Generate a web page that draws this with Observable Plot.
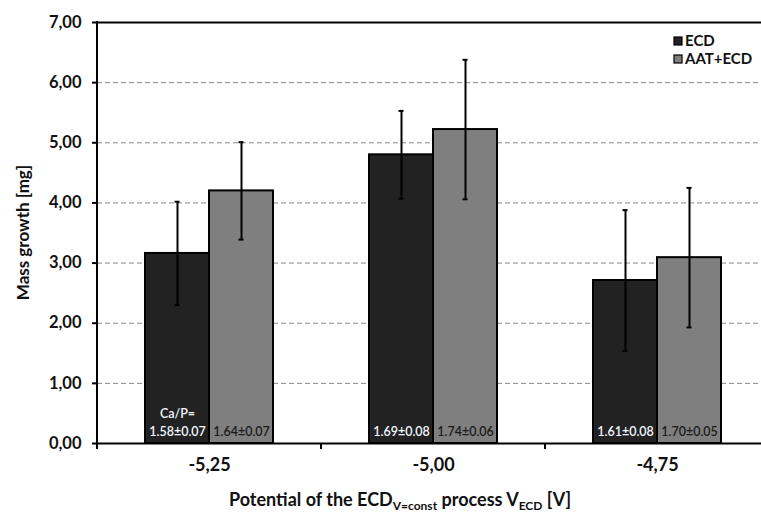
<!DOCTYPE html>
<html><head><meta charset="utf-8">
<script src="https://cdn.jsdelivr.net/npm/d3@7"></script>
<script src="https://cdn.jsdelivr.net/npm/@observablehq/plot@0.6"></script>
<style>
html,body{margin:0;padding:0;background:#fff;overflow:hidden}
#chart svg{overflow:hidden;display:block}
</style>
</head><body><div id="chart"></div>
<script>
const categories = ["-5,25", "-5,00", "-4,75"];
const series = ["ECD", "AAT+ECD"];
const seriesColors = ["#222222", "#7f7f7f"];
const ecdValues = [3.16, 4.80, 2.71];
const ecdErrors = [0.86, 0.73, 1.17];
const aatValues = [4.20, 5.22, 3.09];
const aatErrors = [0.81, 1.16, 1.16];
const ecdCaP = ["1.58±0.07", "1.69±0.08", "1.61±0.08"];
const aatCaP = ["1.64±0.07", "1.74±0.06", "1.70±0.05"];
const capPrefix = "Ca/P=";
const yTicks = [0, 1, 2, 3, 4, 5, 6, 7];
const yLabel = "Mass growth [mg]";

const rows = categories.flatMap((c, i) => [
  {cat: c, series: series[0], v: ecdValues[i], e: ecdErrors[i], cap: ecdCaP[i]},
  {cat: c, series: series[1], v: aatValues[i], e: aatErrors[i], cap: aatCaP[i]}
]);

const font = "Lato, 'Open Sans', sans-serif";

const plot = Plot.plot({
  width: 761, height: 516,
  marginLeft: 96, marginRight: 0, marginTop: 22, marginBottom: 73,
  style: {fontFamily: font, background: "#fff", overflow: "hidden"},
  fx: {domain: categories, range: [96, 770], padding: 0, label: null},
  x: {domain: series, paddingInner: 0, paddingOuter: 0.7308, axis: null},
  y: {domain: [0, 7], range: [443, 22], axis: null},
  color: {domain: series, range: seriesColors},
  marks: [
    Plot.gridY(yTicks.slice(1, -1), {stroke: "#8a8a8a", strokeOpacity: 1, strokeDasharray: "5,3"}),
    Plot.barY(rows, {fx: "cat", x: "series", y: "v", fill: "series", stroke: "#000", strokeWidth: 2}),
    Plot.ruleX(rows, {fx: "cat", x: "series", y1: d => d.v - d.e, y2: d => d.v + d.e, stroke: "#000", strokeWidth: 2}),
    Plot.tickY(rows, {fx: "cat", x: "series", y: d => d.v - d.e, insetLeft: 29.5, insetRight: 29.5, stroke: "#000", strokeWidth: 2}),
    Plot.tickY(rows, {fx: "cat", x: "series", y: d => d.v + d.e, insetLeft: 29.5, insetRight: 29.5, stroke: "#000", strokeWidth: 2}),
    Plot.text(rows, {fx: "cat", x: "series", y: 0, text: "cap", dy: -12, fontSize: 12.5, fontWeight: 600,
      fill: d => d.series === series[0] ? "#f2f6ff" : "#1a1a1a"}),
    Plot.text(rows.slice(0, 1), {fx: "cat", x: "series", y: 0, text: () => capPrefix, dy: -30, fontSize: 12.5, fontWeight: 600, fill: "#f2f6ff"}),
    Plot.ruleY([0, 7], {stroke: "#000", strokeWidth: 2}),
    Plot.axisY(yTicks, {anchor: "left", tickSize: 5, tickPadding: 11, fontSize: 16.5, fontWeight: "bold",
      tickFormat: d => d.toFixed(2).replace(".", ","), label: null, stroke: "#000", strokeWidth: 2, fill: "#111"}),
    Plot.axisFx({anchor: "bottom", tickSize: 0, tickPadding: 15, fontSize: 18, fontWeight: "bold", label: null, fill: "#111"})
  ]
});

document.getElementById("chart").appendChild(plot);

const svg = d3.select(plot);
const fx = plot.scale("fx");
const y = plot.scale("y");
const y0 = y.apply(0), y7 = y.apply(7);
const left = fx.apply(categories[0]);
// left axis line
svg.append("line").attr("x1", left).attr("x2", left).attr("y1", y7 - 1).attr("y2", y0 + 1)
  .attr("stroke", "#000").attr("stroke-width", 2);
// category boundary ticks
categories.forEach(c => {
  const bx = fx.apply(c);
  svg.append("line").attr("x1", bx).attr("x2", bx).attr("y1", y0).attr("y2", y0 + 6)
    .attr("stroke", "#000").attr("stroke-width", 2);
});
// y axis title
svg.append("text").attr("transform", `translate(29,${(y0 + y7) / 2}) rotate(-90)`)
  .attr("text-anchor", "middle").attr("font-family", font).attr("font-size", 17)
  .attr("font-weight", "bold").attr("fill", "#111").text(yLabel);
// x axis title with subscripts
const xt = svg.append("text").attr("x", 400).attr("y", 506).attr("text-anchor", "middle")
  .attr("font-family", font).attr("font-size", 18).attr("font-weight", "bold").attr("fill", "#111");
xt.append("tspan").text("Potential of the ECD");
xt.append("tspan").attr("dy", 4).attr("font-size", 12).text("V=const");
xt.append("tspan").attr("dy", -4).text(" process V");
xt.append("tspan").attr("dy", 4).attr("font-size", 12).text("ECD");
xt.append("tspan").attr("dy", -4).text(" [V]");
// legend
series.forEach((s, i) => {
  const g = svg.append("g").attr("transform", `translate(674,${37 + i * 18})`);
  g.append("rect").attr("width", 8).attr("height", 8).attr("fill", seriesColors[i])
    .attr("stroke", "#000").attr("stroke-width", 1.2);
  g.append("text").attr("x", 11).attr("y", 8.5).attr("text-anchor", "start").attr("font-family", font)
    .attr("font-size", 15).attr("font-weight", "bold").attr("fill", "#111").text(s);
});
</script>
</body></html>
